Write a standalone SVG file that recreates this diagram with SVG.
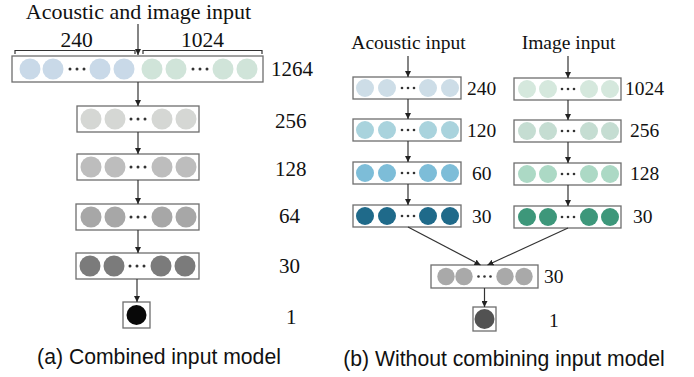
<svg xmlns="http://www.w3.org/2000/svg" width="694" height="377" viewBox="0 0 694 377">
<style>
.box{fill:#ffffff;stroke:#6e6e6e;stroke-width:1.3}
.lbl{font-family:"Liberation Serif","Times New Roman",serif;fill:#111}
.cap{font-family:"Liberation Sans",Arial,sans-serif;fill:#111}
.con{stroke:#333;stroke-width:1.2;fill:none}
.dot{fill:#333}
</style>
<defs>
<marker id="ah" viewBox="0 0 10 10" refX="10" refY="5" markerWidth="6" markerHeight="6" markerUnits="userSpaceOnUse" orient="auto">
<path d="M0,0 L10,5 L0,10 Z" fill="#222"/>
</marker>
</defs>
<rect width="694" height="377" fill="#ffffff"/>

<!-- Left panel -->
<text class="lbl" x="138.5" y="19" font-size="22" text-anchor="middle">Acoustic and image input</text>
<text class="lbl" x="76.5" y="47" font-size="21.5" text-anchor="middle">240</text>
<text class="lbl" x="202.5" y="47" font-size="21.5" text-anchor="middle">1024</text>
<path class="con" d="M15,54 V50.5 H135 V54 M143,54 V50.5 H262 V54" stroke="#555" stroke-width="1"/>

<g id="L1264">
<rect class="box" x="12" y="56" width="251" height="26"/>
<g fill="#c9d9e8"><circle cx="30" cy="69" r="10.5"/><circle cx="53" cy="69" r="10.5"/><circle cx="100" cy="69" r="10.5"/><circle cx="124" cy="69" r="10.5"/></g>
<g fill="#d0e4d9"><circle cx="152" cy="69" r="10.5"/><circle cx="176" cy="69" r="10.5"/><circle cx="223" cy="69" r="10.5"/><circle cx="247" cy="69" r="10.5"/></g>
<g class="dot"><circle cx="70" cy="69" r="1.5"/><circle cx="77" cy="69" r="1.5"/><circle cx="84" cy="69" r="1.5"/><circle cx="193" cy="69" r="1.5"/><circle cx="200" cy="69" r="1.5"/><circle cx="207" cy="69" r="1.5"/></g>
<text class="lbl" x="271" y="76" font-size="21">1264</text>
</g>

<g id="L256">
<rect class="box" x="77" y="106" width="122" height="26"/>
<g fill="#d5d7d4"><circle cx="91" cy="119" r="10.5"/><circle cx="115" cy="119" r="10.5"/><circle cx="162" cy="119" r="10.5"/><circle cx="186" cy="119" r="10.5"/></g>
<g class="dot"><circle cx="131" cy="119" r="1.5"/><circle cx="138" cy="119" r="1.5"/><circle cx="145" cy="119" r="1.5"/></g>
<text class="lbl" x="275" y="128" font-size="21">256</text>
</g>

<g id="L128">
<rect class="box" x="77" y="154" width="122" height="26"/>
<g fill="#bdbdbd"><circle cx="91" cy="167" r="10.5"/><circle cx="115" cy="167" r="10.5"/><circle cx="162" cy="167" r="10.5"/><circle cx="186" cy="167" r="10.5"/></g>
<g class="dot"><circle cx="131" cy="167" r="1.5"/><circle cx="138" cy="167" r="1.5"/><circle cx="145" cy="167" r="1.5"/></g>
<text class="lbl" x="275" y="176" font-size="21">128</text>
</g>

<g id="L64">
<rect class="box" x="76" y="204" width="123" height="26"/>
<g fill="#a7a7a7"><circle cx="91" cy="217" r="10.5"/><circle cx="115" cy="217" r="10.5"/><circle cx="162" cy="217" r="10.5"/><circle cx="186" cy="217" r="10.5"/></g>
<g class="dot"><circle cx="131" cy="217" r="1.5"/><circle cx="138" cy="217" r="1.5"/><circle cx="145" cy="217" r="1.5"/></g>
<text class="lbl" x="279" y="223" font-size="21">64</text>
</g>

<g id="L30">
<rect class="box" x="76" y="253" width="123" height="26"/>
<g fill="#7b7b7b"><circle cx="90" cy="266" r="10.5"/><circle cx="114" cy="266" r="10.5"/><circle cx="161" cy="266" r="10.5"/><circle cx="185" cy="266" r="10.5"/></g>
<g class="dot"><circle cx="130" cy="266" r="1.5"/><circle cx="137" cy="266" r="1.5"/><circle cx="144" cy="266" r="1.5"/></g>
<text class="lbl" x="279" y="273" font-size="21">30</text>
</g>

<g id="L1">
<rect class="box" x="123" y="302" width="27" height="26"/>
<circle cx="136.5" cy="315" r="10" fill="#080808"/>
<text class="lbl" x="286" y="324" font-size="21">1</text>
</g>

<text class="cap" x="159" y="364" font-size="21.2" text-anchor="middle">(a) Combined input model</text>

<!-- Right panel -->
<text class="lbl" x="408.5" y="49" font-size="19.5" text-anchor="middle">Acoustic input</text>
<text class="lbl" x="568.5" y="49" font-size="19.5" text-anchor="middle">Image input</text>

<g id="A240">
<rect class="box" x="353" y="77" width="108" height="22"/>
<g fill="#cddde7"><circle cx="365" cy="88" r="9"/><circle cx="387" cy="88" r="9"/><circle cx="428" cy="88" r="9"/><circle cx="450" cy="88" r="9"/></g>
<g class="dot"><circle cx="402" cy="88" r="1.3"/><circle cx="408" cy="88" r="1.3"/><circle cx="414" cy="88" r="1.3"/></g>
<text class="lbl" x="467" y="95" font-size="19.5">240</text>
</g>
<g id="A120">
<rect class="box" x="353" y="119" width="108" height="22"/>
<g fill="#a9d3dd"><circle cx="365" cy="130" r="9"/><circle cx="387" cy="130" r="9"/><circle cx="428" cy="130" r="9"/><circle cx="450" cy="130" r="9"/></g>
<g class="dot"><circle cx="402" cy="130" r="1.3"/><circle cx="408" cy="130" r="1.3"/><circle cx="414" cy="130" r="1.3"/></g>
<text class="lbl" x="467" y="137" font-size="19.5">120</text>
</g>
<g id="A60">
<rect class="box" x="353" y="162" width="108" height="22"/>
<g fill="#7dbdd8"><circle cx="365" cy="173" r="9"/><circle cx="387" cy="173" r="9"/><circle cx="428" cy="173" r="9"/><circle cx="450" cy="173" r="9"/></g>
<g class="dot"><circle cx="402" cy="173" r="1.3"/><circle cx="408" cy="173" r="1.3"/><circle cx="414" cy="173" r="1.3"/></g>
<text class="lbl" x="472" y="180" font-size="19.5">60</text>
</g>
<g id="A30">
<rect class="box" x="353" y="205" width="108" height="22"/>
<g fill="#1f6a8a"><circle cx="365" cy="216" r="9"/><circle cx="387" cy="216" r="9"/><circle cx="428" cy="216" r="9"/><circle cx="450" cy="216" r="9"/></g>
<g class="dot"><circle cx="402" cy="216" r="1.3"/><circle cx="408" cy="216" r="1.3"/><circle cx="414" cy="216" r="1.3"/></g>
<text class="lbl" x="472" y="223" font-size="19.5">30</text>
</g>

<g id="I1024">
<rect class="box" x="514" y="78" width="107" height="22"/>
<g fill="#d5e8dd"><circle cx="527" cy="89" r="9"/><circle cx="548" cy="89" r="9"/><circle cx="589" cy="89" r="9"/><circle cx="610" cy="89" r="9"/></g>
<g class="dot"><circle cx="562" cy="89" r="1.3"/><circle cx="568" cy="89" r="1.3"/><circle cx="574" cy="89" r="1.3"/></g>
<text class="lbl" x="625" y="95" font-size="19.5">1024</text>
</g>
<g id="I256">
<rect class="box" x="514" y="120" width="107" height="22"/>
<g fill="#c5ddd2"><circle cx="527" cy="131" r="9"/><circle cx="548" cy="131" r="9"/><circle cx="589" cy="131" r="9"/><circle cx="610" cy="131" r="9"/></g>
<g class="dot"><circle cx="562" cy="131" r="1.3"/><circle cx="568" cy="131" r="1.3"/><circle cx="574" cy="131" r="1.3"/></g>
<text class="lbl" x="630" y="137" font-size="19.5">256</text>
</g>
<g id="I128">
<rect class="box" x="514" y="163" width="107" height="22"/>
<g fill="#acd9c5"><circle cx="527" cy="174" r="9"/><circle cx="548" cy="174" r="9"/><circle cx="589" cy="174" r="9"/><circle cx="610" cy="174" r="9"/></g>
<g class="dot"><circle cx="562" cy="174" r="1.3"/><circle cx="568" cy="174" r="1.3"/><circle cx="574" cy="174" r="1.3"/></g>
<text class="lbl" x="630" y="180" font-size="19.5">128</text>
</g>
<g id="I30">
<rect class="box" x="514" y="206" width="107" height="22"/>
<g fill="#3d977a"><circle cx="527" cy="217" r="9"/><circle cx="548" cy="217" r="9"/><circle cx="589" cy="217" r="9"/><circle cx="610" cy="217" r="9"/></g>
<g class="dot"><circle cx="562" cy="217" r="1.3"/><circle cx="568" cy="217" r="1.3"/><circle cx="574" cy="217" r="1.3"/></g>
<text class="lbl" x="633" y="223" font-size="19.5">30</text>
</g>

<g id="M30">
<rect class="box" x="431" y="265" width="107" height="23"/>
<g fill="#a9a9a9"><circle cx="446" cy="276.5" r="8.7"/><circle cx="464" cy="276.5" r="8.7"/><circle cx="505" cy="276.5" r="8.7"/><circle cx="524" cy="276.5" r="8.7"/></g>
<g class="dot"><circle cx="478.5" cy="276.5" r="1.3"/><circle cx="484.5" cy="276.5" r="1.3"/><circle cx="490.5" cy="276.5" r="1.3"/></g>
<text class="lbl" x="544" y="283" font-size="19.5">30</text>
</g>
<g id="M1">
<rect class="box" x="473" y="307" width="23" height="24"/>
<circle cx="484.5" cy="319" r="10" fill="#525252"/>
<text class="lbl" x="549" y="327" font-size="19.5">1</text>
</g>

<text class="cap" x="504" y="366" font-size="21.2" text-anchor="middle">(b) Without combining input model</text>

<g id="connectors">
<path class="con" d="M138,24 V55" marker-end="url(#ah)"/>
<path class="con" d="M138,82 V106" marker-end="url(#ah)"/>
<path class="con" d="M138,132 V154" marker-end="url(#ah)"/>
<path class="con" d="M138,180 V204" marker-end="url(#ah)"/>
<path class="con" d="M138,230 V253" marker-end="url(#ah)"/>
<path class="con" d="M137,279 V302" marker-end="url(#ah)"/>
<path class="con" d="M408,56 V77" marker-end="url(#ah)"/>
<path class="con" d="M408,99 V119" marker-end="url(#ah)"/>
<path class="con" d="M408,141 V162" marker-end="url(#ah)"/>
<path class="con" d="M408,184 V205" marker-end="url(#ah)"/>
<path class="con" d="M568,56 V78" marker-end="url(#ah)"/>
<path class="con" d="M568,100 V120" marker-end="url(#ah)"/>
<path class="con" d="M568,142 V163" marker-end="url(#ah)"/>
<path class="con" d="M568,185 V206" marker-end="url(#ah)"/>
<path class="con" d="M408,227 L480.5,265" marker-end="url(#ah)"/>
<path class="con" d="M568,228 L487.5,265" marker-end="url(#ah)"/>
<path class="con" d="M484.5,288 V307" marker-end="url(#ah)"/>
</g>
</svg>
